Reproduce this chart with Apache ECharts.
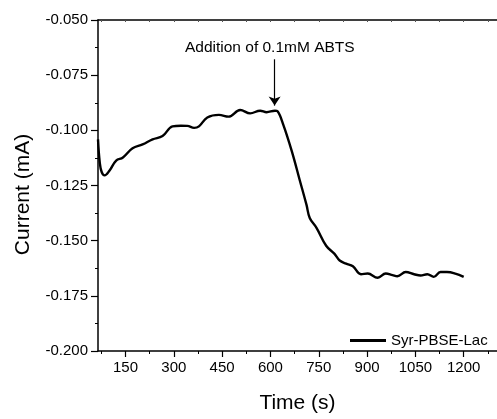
<!DOCTYPE html>
<html>
<head>
<meta charset="utf-8">
<script src="https://cdn.jsdelivr.net/npm/echarts@6/dist/echarts.min.js"></script>
<style>html,body{margin:0;padding:0;background:#fff}#c{width:497px;height:419px}</style>
</head>
<body>
<div id="c"></div>
<script>
// Time (s)
var times = [64.6, 70, 76, 85, 100, 121, 142, 172, 203, 234, 265, 296, 322, 342, 363, 378, 404, 440, 470, 506, 537, 568, 588, 614, 622, 640, 666, 691, 712, 722, 743, 773, 799, 815, 835, 856, 881, 902, 933, 958, 979, 994, 1020, 1046, 1066, 1087, 1107, 1128, 1148, 1174, 1200];
// Current (mA)
var currents = [-0.1041, -0.1145, -0.1189, -0.1204, -0.1183, -0.1137, -0.1123, -0.1081, -0.1064, -0.1041, -0.1026, -0.0982, -0.0979, -0.0980, -0.0989, -0.0982, -0.0942, -0.0930, -0.0938, -0.0908, -0.0923, -0.0911, -0.0918, -0.0911, -0.0914, -0.0975, -0.1093, -0.1226, -0.1338, -0.1397, -0.1442, -0.1523, -0.1560, -0.1590, -0.1604, -0.1616, -0.1652, -0.1649, -0.1668, -0.1649, -0.1656, -0.1661, -0.1642, -0.1652, -0.1658, -0.1652, -0.1664, -0.1642, -0.1642, -0.1649, -0.1664];
var xMajorTicks = [150, 300, 450, 600, 750, 900, 1050, 1200];
var xMinorTicks = [75, 225, 375, 525, 675, 825, 975, 1125, 1275];
var xTopTicks = [75, 150, 225, 300, 375, 450, 525, 600, 675, 750, 825, 900, 975, 1050, 1125, 1200, 1275];
var seriesName = 'Syr-PBSE-Lac';
var annotationText = 'Addition of 0.1mM ABTS';
var arrowX = 613, arrowYStart = -0.0678, arrowYEnd = -0.0888;
var annotationPos = [598, -0.0625];

var xMin = 64.6, xMax = 1303.4;
var FONT = 'Liberation Sans, Arial, sans-serif';
var data = times.map(function (t, i) { return [t, currents[i]]; });

var chart = echarts.init(document.getElementById('c'), null, {renderer: 'canvas'});
chart.setOption({
  animation: false,
  backgroundColor: '#fff',
  textStyle: {fontFamily: FONT, color: '#000'},
  grid: {left: 98, top: 20, width: 402, height: 337, containLabel: false},
  legend: {
    left: 350, top: 333, padding: 0,
    itemWidth: 36, itemHeight: 3,
    textStyle: {fontFamily: FONT, fontSize: 15, color: '#000'},
    data: [{name: seriesName, icon: 'rect'}]
  },
  xAxis: [{
    type: 'value', position: 'bottom', min: xMin, max: xMax,
    name: 'Time (s)', nameLocation: 'middle', nameGap: 42,
    nameTextStyle: {fontFamily: FONT, fontSize: 21, color: '#000'},
    axisLine: {show: true, onZero: false, lineStyle: {color: '#000', width: 1.5}},
    axisTick: {show: true, customValues: xMajorTicks, length: 6, inside: false, lineStyle: {color: '#000', width: 1.2}},
    axisLabel: {show: true, customValues: xMajorTicks, margin: 9, fontFamily: FONT, fontSize: 15, color: '#000',
      formatter: function (v) { return String(Math.round(v)); }},
    splitLine: {show: false}
  }, {
    type: 'value', position: 'bottom', min: xMin, max: xMax,
    axisLine: {show: false, onZero: false},
    axisTick: {show: true, customValues: xMinorTicks, length: 3, inside: false, lineStyle: {color: '#000', width: 1}},
    axisLabel: {show: false},
    splitLine: {show: false}
  }, {
    type: 'value', position: 'top', min: xMin, max: xMax,
    axisLine: {show: true, onZero: false, lineStyle: {color: '#000', width: 1.5}},
    axisTick: {show: true, customValues: xTopTicks, length: 2, inside: true, lineStyle: {color: '#555', width: 1}},
    axisLabel: {show: false},
    splitLine: {show: false}
  }],
  yAxis: [{
    type: 'value', min: -0.2, max: -0.05, interval: 0.025,
    name: 'Current (mA)', nameLocation: 'middle', nameGap: 64, nameRotate: 90,
    nameTextStyle: {fontFamily: FONT, fontSize: 21, color: '#000', padding: [0, 18, 0, 0]},
    axisLine: {show: true, onZero: false, lineStyle: {color: '#000', width: 1.5}},
    axisTick: {show: true, length: 7, inside: false, lineStyle: {color: '#000', width: 1.2}},
    minorTick: {show: true, splitNumber: 2, length: 3, lineStyle: {color: '#000', width: 1}},
    axisLabel: {margin: 10, fontFamily: FONT, fontSize: 15, color: '#000',
      formatter: function (v) { return v.toFixed(3); }},
    splitLine: {show: false}
  }],
  series: [{
    name: seriesName, type: 'line', data: data,
    xAxisIndex: 0, yAxisIndex: 0,
    smooth: 0.4, symbol: 'none', showSymbol: false,
    lineStyle: {color: '#000', width: 2.4},
    itemStyle: {color: '#000'},
    markLine: {
      silent: true, symbol: ['none', 'arrow'], symbolSize: 9,
      lineStyle: {color: '#000', width: 1.2, type: 'solid'},
      itemStyle: {color: '#000'},
      label: {show: false},
      data: [[{coord: [arrowX, arrowYStart]}, {coord: [arrowX, arrowYEnd]}]]
    },
    markPoint: {
      silent: true, symbol: 'circle', symbolSize: 0,
      label: {show: true, position: 'inside', formatter: annotationText,
        fontFamily: FONT, fontSize: 15.5, color: '#000'},
      data: [{coord: annotationPos}]
    }
  }]
});
</script>
</body>
</html>
